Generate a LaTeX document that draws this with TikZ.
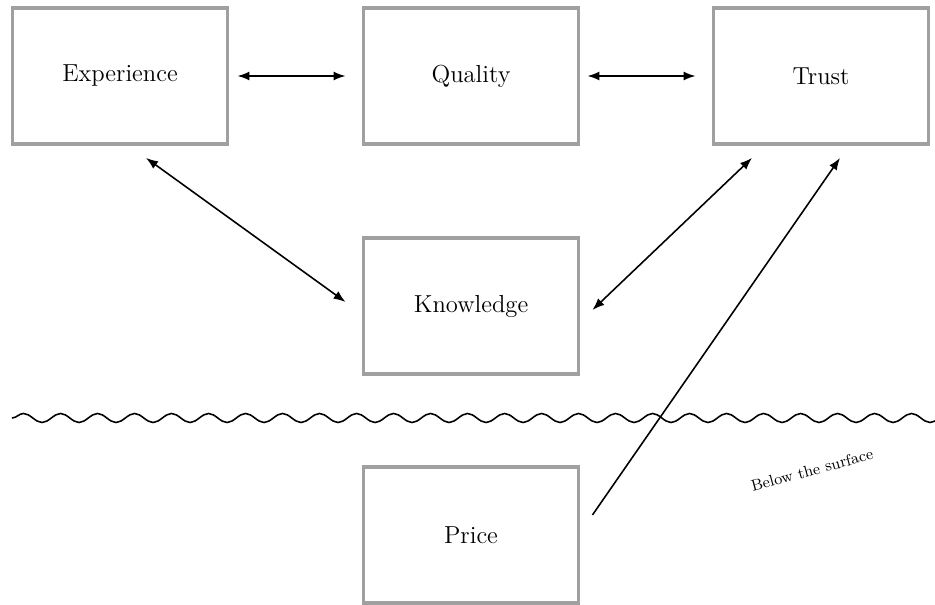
\documentclass[tikz,border=0pt]{standalone}
\usepackage{tikz}
\usetikzlibrary{arrows.meta, calc, decorations.pathmorphing}

\begin{document}
\begin{tikzpicture}[>={Latex[length=2.4mm, width=1.8mm]},
        factor/.style={draw={rgb,255:red,160;green,160;blue,160}, line width=2.2pt, minimum width=4.3cm, minimum height=2.72cm, font=\fontsize{14}{16}\selectfont},
        link/.style={<->, line width=0.9pt}]
        \useasboundingbox (0,0) rectangle (18.7,-12.1);

        \node[factor] (exp) at (2.40,-1.52) {Experience};
        \node[factor] (qual) at (9.42,-1.52) {Quality};
        \node[factor] (trust) at (16.42,-1.52) {Trust};
        \node[factor] (know) at (9.42,-6.12) {Knowledge};
        \node[factor] (price) at (9.42,-10.70) {Price};

        \draw[link] ($(exp.east)+(0.16,0)$) -- ($(qual.west)+(-0.32,0)$);
        \draw[link] ($(qual.east)+(0.14,0)$) -- ($(trust.west)+(-0.32,0)$);
        \draw[link] ($(exp.south)+(0.52,-0.24)$) -- ($(know.west)+(-0.32,0.08)$);
        \draw[link] ($(know.east)+(0.24,-0.08)$) -- ($(trust.south)+(-1.38,-0.24)$);
        \draw[->, line width=0.9pt] ($(price.east)+(0.24,0.4)$) -- ($(trust.south)+(0.38,-0.24)$);

        % the surface
        \draw[line width=0.9pt, decorate, decoration={snake, segment length=0.74cm, amplitude=0.09cm}] (0.24,-8.36) -- (19.6,-8.36);
        \node[rotate=15, font=\fontsize{9}{10}\selectfont] (below) at (16.24,-9.40) {Below the surface};
    \end{tikzpicture}
\end{document}
